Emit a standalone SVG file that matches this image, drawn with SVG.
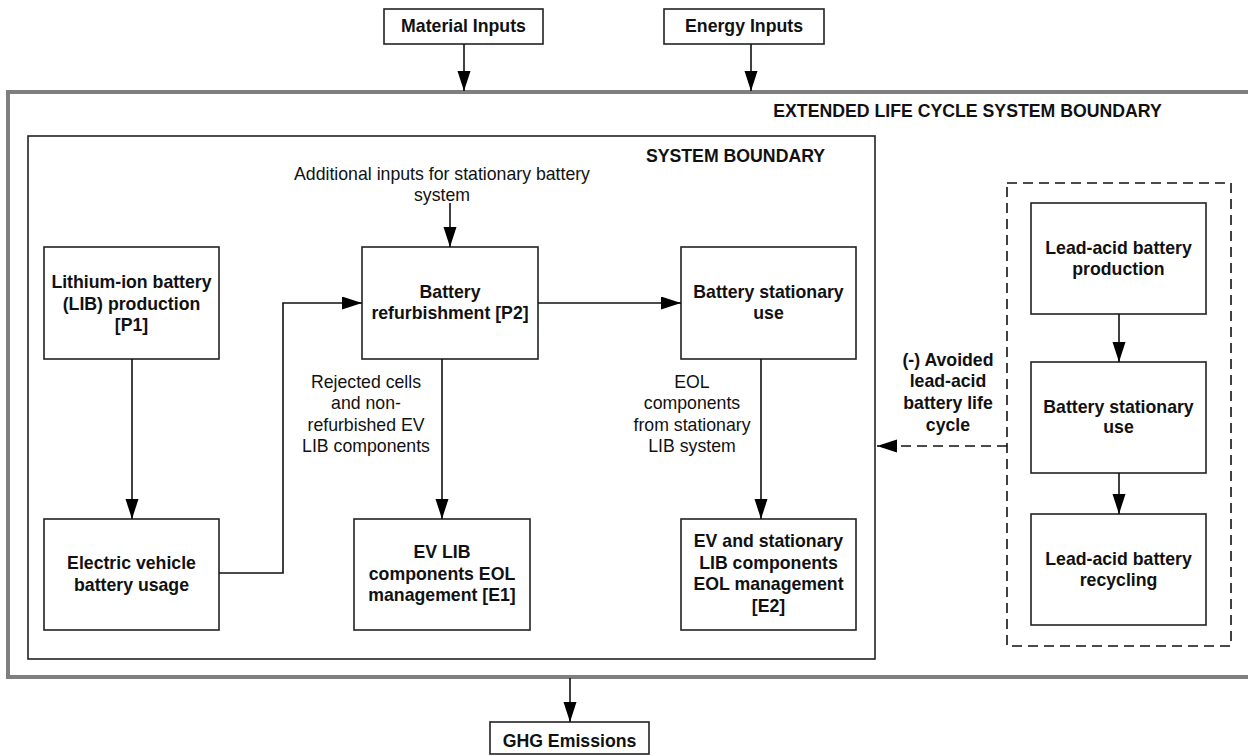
<svg xmlns="http://www.w3.org/2000/svg" width="1248" height="756" viewBox="0 0 1248 756">
<style>
text{font-family:"Liberation Sans",Arial,Helvetica,sans-serif;font-size:17.7px;fill:#111;text-anchor:middle}
.b{font-weight:bold}
.node{fill:#fff;stroke:#222;stroke-width:1.6}
.ln{fill:none;stroke:#111;stroke-width:1.6}
.dash{fill:none;stroke:#111;stroke-width:1.6;stroke-dasharray:10 6}
</style>
<defs>
<marker id="ah" markerUnits="userSpaceOnUse" markerWidth="20" markerHeight="14" refX="20" refY="6.5" orient="auto">
<path d="M0,0 L20,6.5 L0,13 z" fill="#000"/>
</marker>
</defs>
<rect width="1248" height="756" fill="#fff"/>
<g id="extended-boundary">
<rect x="8" y="92" width="1250" height="585" fill="none" stroke="#7f7f7f" stroke-width="4"/>
<text class="b" x="967.5" y="117">EXTENDED LIFE CYCLE SYSTEM BOUNDARY</text>
</g>
<g id="system-boundary">
<rect x="28" y="136" width="847" height="523" fill="none" stroke="#222" stroke-width="1.6"/>
<text class="b" x="735.5" y="162">SYSTEM BOUNDARY</text>
</g>
<g id="avoided-boundary">
<rect x="1007" y="183" width="224" height="463" class="dash"/>
</g>
<g id="material-inputs">
<rect x="384" y="9" width="159" height="35" class="node"/>
<text class="b" x="463.5" y="32">Material Inputs</text>
</g>
<g id="energy-inputs">
<rect x="664" y="9" width="160" height="35" class="node"/>
<text class="b" x="744" y="32">Energy Inputs</text>
</g>
<g id="ghg-emissions">
<rect x="490" y="722" width="159" height="32" class="node"/>
<text class="b" x="569.5" y="747">GHG Emissions</text>
</g>
<g id="p1">
<rect x="44" y="247" width="175" height="112" class="node"/>
<text class="b" x="131.5" y="288">Lithium-ion battery</text>
<text class="b" x="131.5" y="310">(LIB) production</text>
<text class="b" x="131.5" y="331">[P1]</text>
</g>
<g id="ev-usage">
<rect x="44" y="519" width="175" height="111" class="node"/>
<text class="b" x="131.5" y="569">Electric vehicle</text>
<text class="b" x="131.5" y="591">battery usage</text>
</g>
<g id="p2">
<rect x="362" y="247" width="176" height="112" class="node"/>
<text class="b" x="450" y="298">Battery</text>
<text class="b" x="450" y="319">refurbishment [P2]</text>
</g>
<g id="stationary-use">
<rect x="681" y="247" width="175" height="112" class="node"/>
<text class="b" x="768.5" y="298">Battery stationary</text>
<text class="b" x="768.5" y="319">use</text>
</g>
<g id="e1">
<rect x="354" y="519" width="176" height="111" class="node"/>
<text class="b" x="442" y="558">EV LIB</text>
<text class="b" x="442" y="580">components EOL</text>
<text class="b" x="442" y="601">management [E1]</text>
</g>
<g id="e2">
<rect x="681" y="519" width="175" height="111" class="node"/>
<text class="b" x="768.5" y="547">EV and stationary</text>
<text class="b" x="768.5" y="569">LIB components</text>
<text class="b" x="768.5" y="590">EOL management</text>
<text class="b" x="768.5" y="612">[E2]</text>
</g>
<g id="lead-production">
<rect x="1031" y="203" width="175" height="111" class="node"/>
<text class="b" x="1118.5" y="254">Lead-acid battery</text>
<text class="b" x="1118.5" y="275">production</text>
</g>
<g id="lead-stationary-use">
<rect x="1031" y="362" width="175" height="111" class="node"/>
<text class="b" x="1118.5" y="413">Battery stationary</text>
<text class="b" x="1118.5" y="433">use</text>
</g>
<g id="lead-recycling">
<rect x="1031" y="514" width="175" height="111" class="node"/>
<text class="b" x="1118.5" y="565">Lead-acid battery</text>
<text class="b" x="1118.5" y="586">recycling</text>
</g>
<g id="connectors">
<line x1="464" y1="44" x2="464" y2="91" class="ln" marker-end="url(#ah)"/>
<line x1="751" y1="44" x2="751" y2="91" class="ln" marker-end="url(#ah)"/>
<line x1="570" y1="678" x2="570" y2="722" class="ln" marker-end="url(#ah)"/>
<line x1="132" y1="359" x2="132" y2="519" class="ln" marker-end="url(#ah)"/>
<polyline points="219,573 283,573 283,303 362,303" class="ln" marker-end="url(#ah)"/>
<line x1="450" y1="203" x2="450" y2="247" class="ln" marker-end="url(#ah)"/>
<line x1="538" y1="303" x2="681" y2="303" class="ln" marker-end="url(#ah)"/>
<line x1="442" y1="359" x2="442" y2="519" class="ln" marker-end="url(#ah)"/>
<line x1="761" y1="359" x2="761" y2="519" class="ln" marker-end="url(#ah)"/>
<line x1="1119" y1="314" x2="1119" y2="362" class="ln" marker-end="url(#ah)"/>
<line x1="1119" y1="473" x2="1119" y2="514" class="ln" marker-end="url(#ah)"/>
<line x1="1007" y1="446" x2="877" y2="446" class="dash" marker-end="url(#ah)"/>
<text x="442" y="180">Additional inputs for stationary battery</text>
<text x="442" y="201">system</text>
<text x="366" y="388">Rejected cells</text>
<text x="366" y="409">and non-</text>
<text x="366" y="431">refurbished EV</text>
<text x="366" y="452">LIB components</text>
<text x="692" y="388">EOL</text>
<text x="692" y="409">components</text>
<text x="692" y="431">from stationary</text>
<text x="692" y="452">LIB system</text>
<text class="b" x="948" y="366">(-) Avoided</text>
<text class="b" x="948" y="387">lead-acid</text>
<text class="b" x="948" y="409">battery life</text>
<text class="b" x="948" y="431">cycle</text>
</g>
</svg>
